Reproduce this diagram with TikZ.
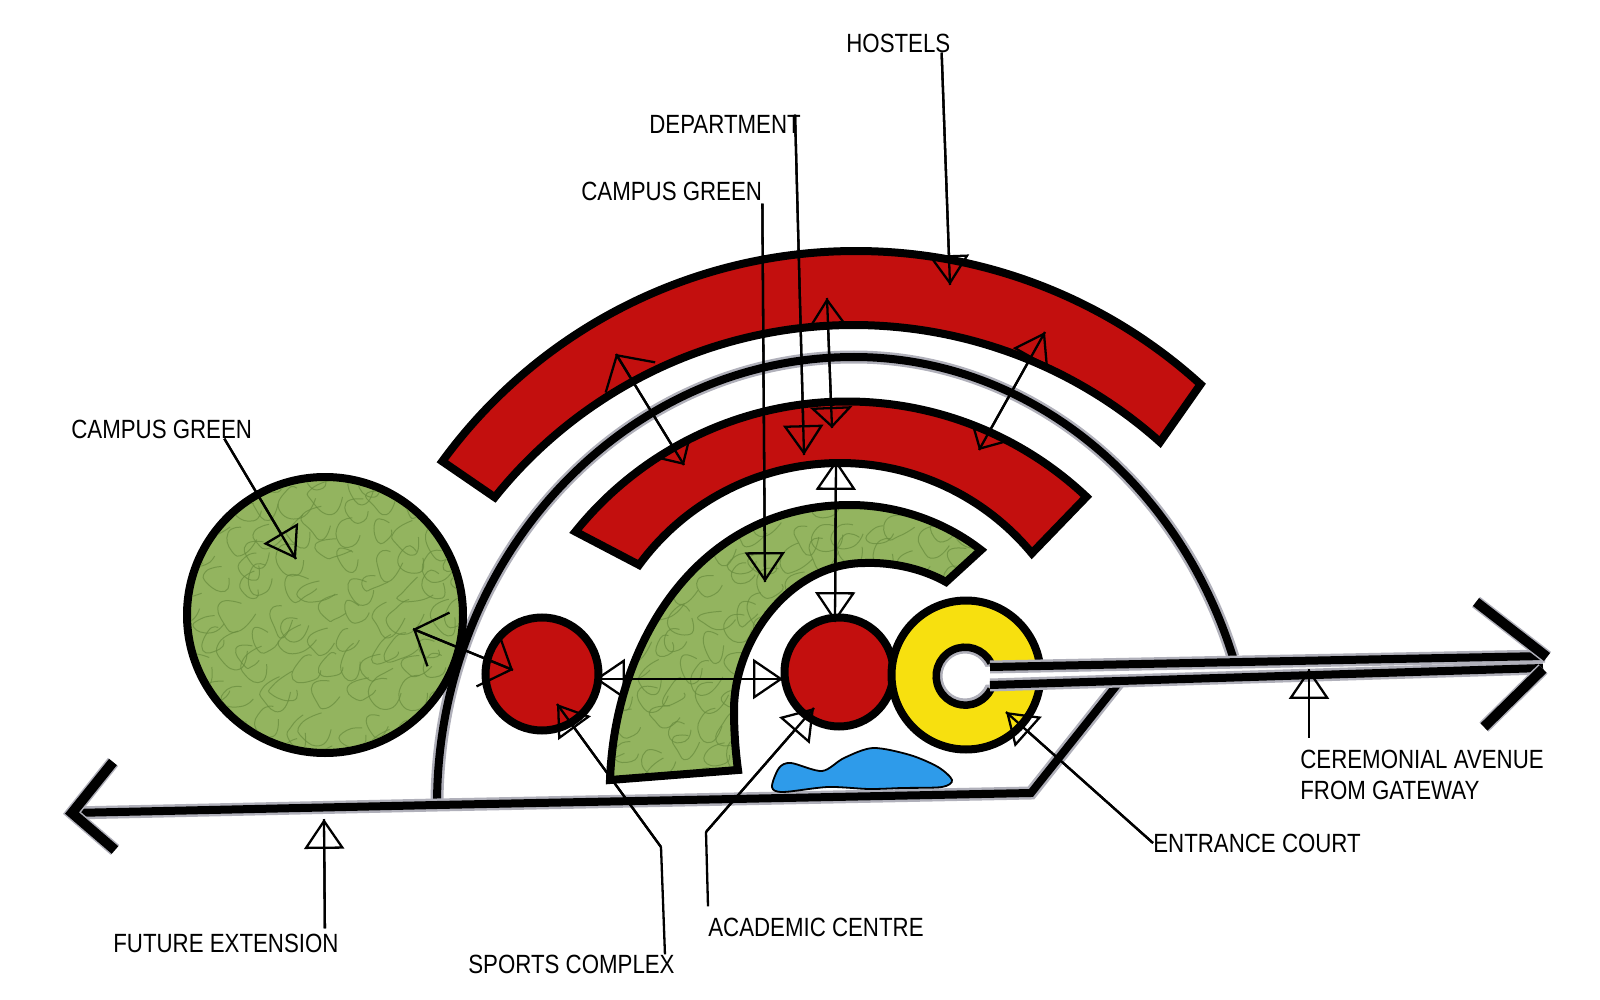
\documentclass[tikz,border=0pt]{standalone}
\usepackage{fontspec}
\setmainfont[FakeStretch=0.845]{Liberation Sans}
\definecolor{blockred}{RGB}{195,15,14}
\definecolor{parkgreen}{RGB}{147,180,95}
\definecolor{parkdark}{RGB}{104,140,62}
\definecolor{courtyellow}{RGB}{247,224,15}
\definecolor{waterblue}{RGB}{46,155,234}
\definecolor{roadgray}{RGB}{176,176,186}
\usetikzlibrary{arrows.meta}
\newlength\px
\setlength\px{0.02cm}
\newcommand{\parktexture}[2]{
  \foreach \tx in {#1} \foreach \ty in {#2} {
    \pgfmathsetmacro\jx{\tx+11*rand}
    \pgfmathsetmacro\jy{\ty+11*rand}
    \draw[parkline] plot[smooth,tension=1] coordinates {({\jx+(6+15*rnd)},{\jy}) ({\jx+(6+15*rnd)*cos(72)},{\jy+(6+15*rnd)*sin(72)}) ({\jx+(6+15*rnd)*cos(144)},{\jy+(6+15*rnd)*sin(144)}) ({\jx+(6+15*rnd)*cos(216)},{\jy+(6+15*rnd)*sin(216)}) ({\jx+(6+15*rnd)*cos(288)},{\jy+(6+15*rnd)*sin(288)})};
  }
}
\newcommand{\bandpath}{(610,780) .. controls (615,640) and (700,505) .. (850,505) .. controls (898,505) and (945,522) .. (981,550)
  -- (946,582) .. controls (925,570) and (895,562) .. (865,563) .. controls (790,563) and (734,640) .. (734,710) .. controls (734,735) and (736,755) .. (738,770) -- cycle}
\tikzset{
  tri/.tip={Triangle[open,length=17pt,width=22.8pt,line width=1.3pt]},
  flat/.tip={Triangle[open,length=12pt,width=24pt,line width=1.3pt]},
  vee/.tip={Straight Barb[length=14.8pt,width=33pt,line width=1.3pt]},
  leader/.style={draw=black, line width=2.3\px},
  lbl/.style={anchor=west, inner sep=0pt, align=left, font=\fontsize{15}{17.6}\selectfont},
  roadline/.style={draw=black, line width=8\px, preaction={draw=roadgray, line width=13\px}},
  barb/.style={draw=black, line width=10\px, miter limit=10, preaction={draw=roadgray, line width=13\px}},
  redblock/.style={draw=black, fill=blockred, line width=8\px, line join=miter},
  roundred/.style={circle, draw=black, fill=blockred, line width=8\px},
  parkround/.style={circle, draw=black, fill=parkgreen, line width=8\px},
  courtround/.style={circle, draw=black, fill=courtyellow, line width=8\px},
  parkline/.style={draw=parkdark, line width=1\px, opacity=.7}
}
\begin{document}
\begin{tikzpicture}[x=0.02cm,y=-0.02cm]
  \useasboundingbox (0,0) rectangle (1600,1000);
  \pgfmathsetseed{7}
  % roads
  \draw[roadline] (437,805) arc (-180:-90:417 and 448) arc (-90:-19.3:401.5 and 448);
  \draw[roadline] (72,813) -- (437,805) -- (1031,793) -- (1120,681);
  \draw[barb] (113,762) -- (72,813) -- (115,850);
  % blocks
  \draw[redblock] ([shift={(-143.9:512)}]856,763) arc (-143.9:-47.7:512)
    -- ([shift={(-48.2:459.8)}]853.6,784.8) arc (-48.2:-141.3:459.8) -- cycle;
  \draw[redblock] ([shift={(-141.2:348.5)}]847,750) arc (-141.2:-46.6:348.5)
    -- ([shift={(-39.6:249)}]840,712) arc (-39.6:-143.8:249) -- cycle;
  \fill[parkgreen] \bandpath;
  \begin{scope}
    \clip \bandpath;
    \parktexture{600,628,...,990}{500,528,...,790}
  \end{scope}
  \draw[draw=black, line width=8\px, line join=miter] \bandpath;
  \node[parkround, minimum size=276\px] (bigpark) at (325,615) {};
  \begin{scope}
    \clip (325,615) circle (134);
    \parktexture{185,213,...,470}{475,503,...,760}
  \end{scope}
  \node[roundred, minimum size=113\px] (sportsround) at (542,674) {};
  \node[roundred, minimum size=109\px] (academicround) at (839,672) {};
  \node[courtround, minimum size=149\px] (courtdisc) at (966,675) {};
  \node[circle, fill=white, minimum size=50\px] (courthole) at (965,676) {};
  \draw[roadgray, line width=5\px] (965,676) circle (25);
  \draw[black, line width=7.5\px] (991,663) arc (-27:-333:29);
  \draw[fill=waterblue, draw=black, line width=1.8\px] plot[smooth cycle] coordinates {(772,787) (779,768) (791,763) (822,771) (844,758) (873,748) (910,755) (938,767) (952,780) (942,787) (902,788) (869,789) (828,787) (783,792)};
  % avenue
  \fill[white] (975,667) -- (1545,656) -- (1543,668) -- (975,685) -- cycle;
  \draw[roadline] (990,667) -- (1545,656);
  \draw[roadline] (990,685) -- (1543,668);
  \draw[barb] (1476,602) -- (1547,657);
  \draw[barb] (1484,727) -- (1543,669);
  % labels
  \node[lbl] (lblhostels) at (846,43) {HOSTELS};
  \node[lbl] (lbldept) at (649,124) {DEPARTMENT};
  \node[lbl] (lblgreena) at (581,191) {CAMPUS GREEN};
  \node[lbl] (lblgreenb) at (71,429) {CAMPUS GREEN};
  \node[lbl] (lblfuture) at (113,943) {FUTURE EXTENSION};
  \node[lbl] (lblsports) at (468,964) {SPORTS COMPLEX};
  \node[lbl] (lblacademic) at (708,927) {ACADEMIC CENTRE};
  \node[lbl] (lblentrance) at (1153,843) {ENTRANCE COURT};
  \node[lbl] (lblavenue) at (1300,775) {CEREMONIAL AVENUE\\FROM GATEWAY};
  % leader ends
  \coordinate (hostelsstart) at ([xshift=-9\px]lblhostels.south east);
  \coordinate (deptstart) at ([xshift=-6\px]lbldept.north east);
  \coordinate (greenastart) at ([yshift=-3\px]lblgreena.south east);
  \coordinate (greenbstart) at ([xshift=-28\px]lblgreenb.south east);
  \coordinate (futurestart) at ([xshift=-14\px,yshift=5\px]lblfuture.north east);
  \coordinate (sportsstart) at ([xshift=-10\px]lblsports.north east);
  \coordinate (academicstart) at ([yshift=11\px]lblacademic.north west);
  \coordinate (avenuestart) at ([xshift=9\px,yshift=12\px]lblavenue.north west);
  \coordinate (hostelsend) at (950,285);
  \coordinate (deptend) at (804,455);
  \coordinate (greenaend) at (765,582);
  \coordinate (greenbend) at (296,559);
  \coordinate (futureend) at (324,819);
  \coordinate (sportsbend) at (661,847);
  \coordinate (sportsend) at (557,704);
  \coordinate (academicbend) at (706,832);
  \coordinate (academicend) at (814,708);
  \coordinate (entranceend) at (1006,712);
  \coordinate (avenueend) at (1309,669);
  \coordinate (linkat) at (827,298);
  \coordinate (linkab) at (832,428);
  \coordinate (linkbt) at (616,354);
  \coordinate (linkbb) at (684,465);
  \coordinate (linkct) at (1045,332);
  \coordinate (linkcb) at (979,450);
  \coordinate (linkdt) at (836,460);
  \coordinate (linkdb) at (835,622);
  \coordinate (linkel) at (595,679);
  \coordinate (linker) at (783,679);
  \coordinate (linkfl) at (413,629);
  \coordinate (linkfr) at (513,670);
  % leaders
  \draw[leader] (sportsstart) -- (sportsbend);
  \draw[leader] (academicstart) -- (academicbend);
  \foreach \from/\to/\tips in {hostelsstart/hostelsend/-tri, deptstart/deptend/-tri, greenastart/greenaend/-tri,
      greenbstart/greenbend/-tri, futurestart/futureend/-tri, sportsbend/sportsend/-tri,
      academicbend/academicend/-tri, lblentrance.west/entranceend/-tri, avenuestart/avenueend/-tri,
      linkat/linkab/tri-flat, linkbt/linkbb/vee-flat, linkct/linkcb/tri-flat,
      linkdt/linkdb/tri-tri, linkel/linker/tri-tri, linkfl/linkfr/vee-vee} {
    \draw[leader] (\from) -- (\to);
    \draw[leader,arrows/.expanded=\tips] (\from) -- (\to);
  }
\end{tikzpicture}
\end{document}
